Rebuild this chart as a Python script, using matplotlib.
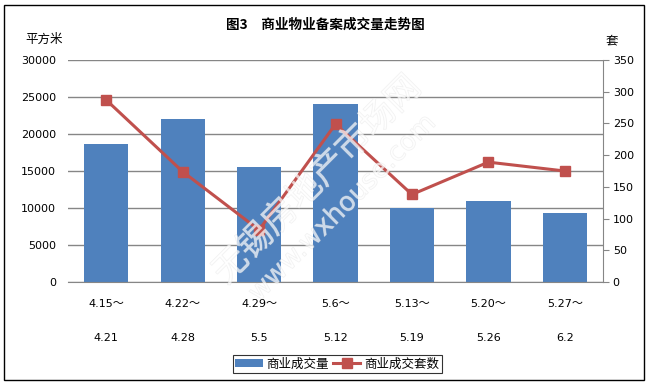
import numpy as np
import matplotlib.pyplot as plt
from matplotlib.patches import Rectangle
import matplotlib.patheffects as pe

plt.rcParams['font.family'] = ['DejaVu Sans', 'Noto Sans CJK SC']

weeks_start = ['4.15～', '4.22～', '4.29～', '5.6～', '5.13～', '5.20～', '5.27～']
weeks_end = ['4.21', '4.28', '5.5', '5.12', '5.19', '5.26', '6.2']
area = [18700, 22000, 15600, 24000, 9950, 10900, 9300]   # 平方米
units = [287, 174, 82, 249, 138, 189, 175]                 # 套

blue = '#4F81BD'
red = '#C0504D'
grid = '#868686'

fig = plt.figure(figsize=(6.51, 3.85), dpi=100)
fig.patches.append(Rectangle((0.006, 0.012), 0.984, 0.976, transform=fig.transFigure,
                             fill=False, edgecolor='black', linewidth=1.0))

ax = fig.add_axes([0.1045, 0.2675, 0.8218, 0.5766])
x = np.arange(len(area))
bars = ax.bar(x, area, width=0.58, color=blue, zorder=2)
ax.set_xlim(-0.5, len(area) - 0.5)
ax.set_ylim(0, 30000)
ax.set_yticks(np.arange(0, 30001, 5000))
ax.yaxis.grid(True, color=grid, linewidth=1.0, zorder=0)
ax.set_axisbelow(True)
for s in ['top', 'left', 'right']:
    ax.spines[s].set_visible(False)
ax.spines['bottom'].set_color(grid)
ax.tick_params(axis='y', length=0, labelsize=8, pad=8.5)
ax.tick_params(axis='x', length=0, labelsize=8, pad=12)
ax.set_xticks(x)
ax.set_xticklabels([a + '\n\n' + b for a, b in zip(weeks_start, weeks_end)], linespacing=1.9)

ax2 = ax.twinx()
line, = ax2.plot(x, units, color=red, linewidth=2.2, marker='s', markersize=7, zorder=3)
ax2.set_ylim(0, 350)
ax2.set_yticks(np.arange(0, 351, 50))
for s in ['top', 'left', 'bottom']:
    ax2.spines[s].set_visible(False)
ax2.spines['right'].set_color(grid)
ax2.tick_params(axis='y', length=4, color=grid, labelsize=8, pad=3)

fig.text(0.5, 0.935, '图3　商业物业备案成交量走势图', ha='center', va='center',
         fontsize=9.8, fontweight='bold', family=['Noto Sans CJK SC'])
fig.text(0.068, 0.897, '平方米', ha='center', va='center', fontsize=9, family=['Noto Sans CJK SC'])
fig.text(0.94, 0.895, '套', ha='center', va='center', fontsize=9, family=['Noto Sans CJK SC'])

# hollow watermark
halo = [pe.withStroke(linewidth=0.7, foreground='#e0e0e0')]
fig.text(0.488, 0.532, '无锡房地产市场网', rotation=45, ha='center', va='center', fontsize=25,
         color='white', alpha=0.45, family=['Noto Sans CJK SC'], path_effects=halo, zorder=10)
fig.text(0.527, 0.46, 'www.wxhouse.com', rotation=45, ha='center', va='center', fontsize=19,
         color='white', alpha=0.45, path_effects=halo, zorder=10)

leg = fig.legend([bars, line], ['商业成交量', '商业成交套数'], loc='center',
                 bbox_to_anchor=(0.518, 0.055), ncol=2, frameon=True, fancybox=False,
                 edgecolor='black', handlelength=2.2, columnspacing=0.3,
                 handletextpad=0.3, borderpad=0.2, prop={'family': ['Noto Sans CJK SC'], 'size': 9})
leg.get_frame().set_linewidth(0.8)

fig.savefig('out.png', dpi=100)
